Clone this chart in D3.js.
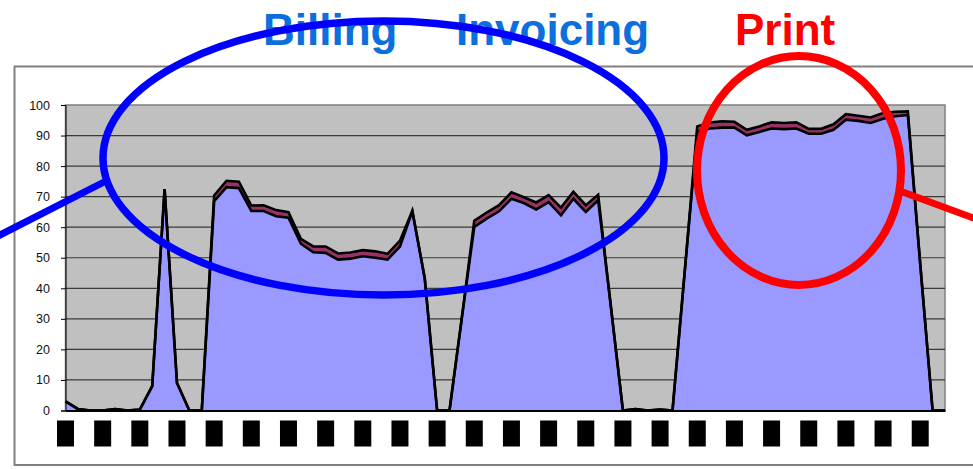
<!DOCTYPE html>
<html>
<head>
<meta charset="utf-8">
<script src="https://cdn.jsdelivr.net/npm/d3@7/dist/d3.min.js"></script>
<style>
  html, body { margin: 0; padding: 0; background: #ffffff; }
  svg { display: block; }
</style>
</head>
<body>
<svg id="chart" width="973" height="469"></svg>
<script>
// Sample slots along the day (72 samples), one axis label every third slot
const slots = d3.range(1, 73);
const labelEvery = 3;

// Lower stacked series (lavender area)
const baseLoad = [
  3, 0.5, 0, 0, 0.5, 0, 0.3, 8, 72.5, 9, 0, 0,
  68.5, 73.1, 72.8, 65.3, 65.3, 63.6, 63.1, 54.6, 51.8, 51.6, 49.4, 49.7,
  50.5, 50.0, 49.4, 53.7, 65.2, 43.3, 0, 0, 30.5, 60.1, 62.8, 65.2,
  69.3, 67.9, 65.8, 68.2, 63.9, 69.3, 65.0, 68.8, 35, 0, 0.5, 0,
  0.3, 0, 46, 91.2, 92.3, 92.6, 92.6, 90.1, 91.2, 92.3, 92.1, 92.3,
  90.6, 90.6, 91.9, 95.2, 94.8, 94.1, 95.5, 96.3, 96.7, 48, 0, 0
];

// Upper stacked series (plum band)
const extraLoad = [
  0, 0, 0, 0, 0, 0, 0, 0, 0, 0, 0, 0,
  1.9, 2.1, 2.1, 1.8, 1.9, 2.0, 1.8, 1.6, 1.9, 2.1, 2.0, 2.0,
  2.0, 2.1, 1.9, 1.9, 0.2, 0, 0, 0, 0, 2.0, 2.0, 2.0,
  2.1, 1.9, 2.3, 2.3, 2.5, 2.3, 2.2, 1.8, 0, 0, 0, 0,
  0, 0, 0, 1.8, 2.0, 2.1, 1.9, 1.8, 1.8, 2.0, 2.0, 2.0,
  1.6, 1.6, 1.8, 1.8, 1.7, 1.8, 1.9, 1.5, 1.2, 0, 0, 0
];

const yTicks = [0, 10, 20, 30, 40, 50, 60, 70, 80, 90, 100];

// Headings above the chart
const headings = [
  { text: "Billing", x: 263, color: "#0b6fdd" },
  { text: "Invoicing", x: 456, color: "#0b6fdd" },
  { text: "Print", x: 735, color: "#ff0000" }
];

const svg = d3.select("#chart");

const plot = { left: 65.5, right: 945, top: 105, bottom: 410.5 };

const x = d3.scalePoint().domain(slots).range([plot.left, plot.right]);
const y = d3.scaleLinear().domain([0, 100]).range([plot.bottom, plot.top]);

// Outer chart frame
svg.append("rect")
  .attr("x", 14.5).attr("y", 66.5)
  .attr("width", 980).attr("height", 398.5)
  .attr("fill", "#ffffff")
  .attr("stroke", "#808080")
  .attr("stroke-width", 2);

// Plot background
svg.append("rect")
  .attr("x", plot.left).attr("y", plot.top)
  .attr("width", plot.right - plot.left).attr("height", plot.bottom - plot.top)
  .attr("fill", "#c0c0c0")
  .attr("stroke", "#808080")
  .attr("stroke-width", 1.5);

// Horizontal gridlines
svg.append("g")
  .selectAll("line")
  .data(yTicks.filter(d => d > 0 && d < 100))
  .join("line")
  .attr("x1", plot.left).attr("x2", plot.right)
  .attr("y1", d => y(d)).attr("y2", d => y(d))
  .attr("stroke", "#3a3a3a")
  .attr("stroke-width", 1.2);

// Stack the two series
const rows = slots.map((s, i) => ({ slot: s, base: baseLoad[i], extra: extraLoad[i] }));
const stacked = d3.stack().keys(["base", "extra"])(rows);
const fills = { base: "#9999ff", extra: "#993366" };

const area = d3.area()
  .x(d => x(d.data.slot))
  .y0(d => y(d[0]))
  .y1(d => y(d[1]));

const topLine = d3.line()
  .x(d => x(d.data.slot))
  .y(d => y(d[1]));

svg.append("g")
  .selectAll("path")
  .data(stacked)
  .join("path")
  .attr("d", area)
  .attr("fill", d => fills[d.key]);

svg.append("g")
  .selectAll("path")
  .data(stacked)
  .join("path")
  .attr("d", topLine)
  .attr("fill", "none")
  .attr("stroke", "#000000")
  .attr("stroke-width", 2.6)
  .attr("stroke-linejoin", "miter")
  .attr("stroke-miterlimit", 6);

// Y axis
const yAxis = svg.append("g")
  .attr("transform", `translate(${plot.left},0)`)
  .call(d3.axisLeft(y).tickValues(yTicks).tickSize(4.5).tickPadding(11));
yAxis.select(".domain").attr("stroke", "#000").attr("stroke-width", 1);
yAxis.selectAll(".tick line").attr("stroke", "#000");
yAxis.selectAll("text")
  .attr("font-family", "Arial, 'Liberation Sans', sans-serif")
  .attr("font-size", 12.5)
  .attr("fill", "#111");

// X axis with blacked-out category labels
const labelled = slots.filter((s, i) => i % labelEvery === 0);
const xAxis = svg.append("g")
  .attr("transform", `translate(0,${plot.bottom})`)
  .call(d3.axisBottom(x).tickValues(labelled).tickSize(0).tickFormat(""));
xAxis.select(".domain").attr("stroke", "#000").attr("stroke-width", 2.2);

svg.append("g")
  .selectAll("rect")
  .data(labelled)
  .join("rect")
  .attr("x", d => x(d) - 8.5)
  .attr("y", 420.5)
  .attr("width", 17)
  .attr("height", 26)
  .attr("fill", "#000");

// Headings
svg.append("g")
  .selectAll("text")
  .data(headings)
  .join("text")
  .attr("x", d => d.x)
  .attr("y", 45)
  .attr("font-family", "Arial, 'Liberation Sans', sans-serif")
  .attr("font-weight", "bold")
  .attr("font-size", 44)
  .attr("fill", d => d.color)
  .text(d => d.text);

// Blue callout
svg.append("line")
  .attr("x1", -2).attr("y1", 236)
  .attr("x2", 104).attr("y2", 182)
  .attr("stroke", "#0000ff").attr("stroke-width", 7);
svg.append("ellipse")
  .attr("cx", 383.5).attr("cy", 158)
  .attr("rx", 280.5).attr("ry", 137)
  .attr("fill", "none")
  .attr("stroke", "#0000ff").attr("stroke-width", 7.5);

// Red callout
svg.append("line")
  .attr("x1", 900).attr("y1", 191)
  .attr("x2", 976).attr("y2", 219)
  .attr("stroke", "#ff0000").attr("stroke-width", 7);
svg.append("ellipse")
  .attr("cx", 799).attr("cy", 170.5)
  .attr("rx", 102).attr("ry", 114.5)
  .attr("fill", "none")
  .attr("stroke", "#ff0000").attr("stroke-width", 8);
</script>
</body>
</html>
